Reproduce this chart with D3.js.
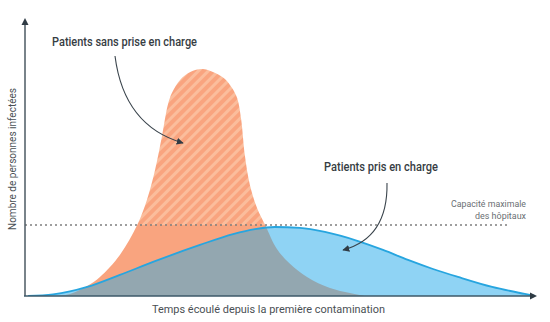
<!DOCTYPE html>
<html><head><meta charset="utf-8">
<script src="https://cdn.jsdelivr.net/npm/d3@7"></script>
<style>body{margin:0;background:#fff}svg{display:block;font-family:Roboto,"Noto Sans",sans-serif}</style>
</head><body><svg id="c" width="550" height="322"></svg>
<script>
// Time (0-100) and infected (0-100, peak of unmanaged curve = 100)
const sansPriseX = [5.9, 8.8, 12.2, 14.7, 18.6, 22.0, 23.9, 25.5, 26.9, 28.0, 28.8, 30.4, 32.4, 34.9, 37.3, 39.2, 40.6, 41.6, 42.4, 43.1, 44.1, 45.5, 47.1, 49.4, 52.0, 55.3, 59.8, 63.7, 66.7];
const sansPriseY = [0, 0.9, 4.4, 8.4, 18.1, 31.3, 42.3, 55.5, 70.9, 84.1, 89.4, 95.2, 98.7, 100, 98.2, 95.6, 91.6, 87.2, 77.5, 62.1, 48.9, 38.8, 31.3, 20.7, 14.1, 8.4, 3.5, 1.3, 0];
const prisX = [0.6, 5.5, 8.8, 12.2, 18.6, 25.1, 34.3, 40.8, 45.1, 49.0, 53.9, 58.8, 65.3, 70.2, 75.1, 80.0, 84.9, 91.6, 98.0, 100];
const prisY = [0, 0.7, 2.0, 4.0, 9.3, 15.0, 22.5, 27.3, 29.5, 30.4, 30.0, 28.2, 24.2, 20.3, 15.9, 11.9, 8.4, 4.0, 0.9, 0];
const capacite = 31.3;
const labels = {
  sans: "Patients sans prise en charge",
  pris: "Patients pris en charge",
  cap1: "Capacité maximale",
  cap2: "des hôpitaux",
  yAxis: "Nombre de personnes infectées",
  xAxis: "Temps écoulé depuis la première contamination"
};

const svg = d3.select("#c");
const x = d3.scaleLinear().domain([0, 100]).range([25, 535]);
const y = d3.scaleLinear().domain([0, 100]).range([296, 69]);

const sans = sansPriseX.map((v, i) => ({x: v, y: sansPriseY[i]}));
const pris = prisX.map((v, i) => ({x: v, y: prisY[i]}));

const areaO = d3.area().x(d => x(d.x)).y0(y(0)).y1(d => Math.min(y(0), y(d.y))).curve(d3.curveCatmullRom.alpha(0.5));
const areaB = d3.area().x(d => x(d.x)).y0(y(0)).y1(d => y(d.y)).curve(d3.curveMonotoneX);
const lineB = d3.line().x(d => x(d.x)).y(d => y(d.y)).curve(d3.curveMonotoneX);

const defs = svg.append("defs");
const pat = defs.append("pattern").attr("id", "hatch").attr("patternUnits", "userSpaceOnUse")
  .attr("width", 7).attr("height", 7).attr("patternTransform", "rotate(45)");
pat.append("rect").attr("width", 7).attr("height", 7).attr("fill", "#f9a47f");
pat.append("rect").attr("width", 3).attr("height", 7).attr("fill", "#fbbd9c");

defs.append("clipPath").attr("id", "clipOrange").append("path").attr("d", areaO(sans));
defs.append("clipPath").attr("id", "clipBelowCap").append("rect")
  .attr("x", 0).attr("y", y(capacite)).attr("width", 550).attr("height", 322);
defs.append("clipPath").attr("id", "clipAboveCap").append("rect")
  .attr("x", 0).attr("y", 0).attr("width", 550).attr("height", y(capacite));
defs.append("clipPath").attr("id", "clipPlot").append("rect")
  .attr("x", 25).attr("y", 0).attr("width", 512).attr("height", 296);

const g = svg.append("g").attr("clip-path", "url(#clipPlot)");
// orange: hatched above capacity, solid below
g.append("path").attr("d", areaO(sans)).attr("fill", "url(#hatch)").attr("clip-path", "url(#clipAboveCap)");
g.append("path").attr("d", areaO(sans)).attr("fill", "#f9a47f").attr("clip-path", "url(#clipBelowCap)");
// blue
g.append("path").attr("d", areaB(pris)).attr("fill", "#8fd3f4");
// overlap gray
g.append("path").attr("d", areaB(pris)).attr("fill", "#93a7b0").attr("clip-path", "url(#clipOrange)");
// blue outline
g.append("path").attr("d", lineB(pris)).attr("fill", "none").attr("stroke", "#27a5df").attr("stroke-width", 1.8);

// capacity dashed line
svg.append("line").attr("x1", 25).attr("x2", 510).attr("y1", y(capacite)).attr("y2", y(capacite))
  .attr("stroke", "#7f7f7f").attr("stroke-width", 1.4).attr("stroke-dasharray", "2,3");

// axes
const axisColor = "#4d5a63";
svg.append("line").attr("x1", 25).attr("x2", 25).attr("y1", 296).attr("y2", 24)
  .attr("stroke", axisColor).attr("stroke-width", 1.5);
svg.append("path").attr("d", "M25,18 L21.5,25 L28.5,25 Z").attr("fill", "#2f3b44");
svg.append("line").attr("x1", 24).attr("x2", 531).attr("y1", 296).attr("y2", 296)
  .attr("stroke", "#3d5868").attr("stroke-width", 1.6);
svg.append("path").attr("d", "M537,296 L530,292.5 L530,299.5 Z").attr("fill", "#2f3b44");

// annotations arrows
defs.append("marker").attr("id", "ah").attr("viewBox", "0 0 10 10").attr("refX", 9).attr("refY", 5)
  .attr("markerWidth", 7).attr("markerHeight", 7).attr("orient", "auto-start-reverse")
  .attr("markerUnits", "userSpaceOnUse")
  .append("path").attr("d", "M0,0 L10,5 L0,10 Z").attr("fill", "#2f3b44");
svg.append("path").attr("d", "M115,56 Q124,126 183,143").attr("fill", "none")
  .attr("stroke", "#3a444c").attr("stroke-width", 1.1).attr("marker-end", "url(#ah)");
svg.append("path").attr("d", "M387,183 Q388,238 343,250").attr("fill", "none")
  .attr("stroke", "#3a444c").attr("stroke-width", 1.1).attr("marker-end", "url(#ah)");

// texts
function txt(str, xx, yy, opts) {
  const t = svg.append("text").attr("x", xx).attr("y", yy).text(str)
    .attr("font-size", opts.size).attr("fill", opts.color)
    .attr("font-weight", opts.weight || 400)
    .attr("text-anchor", opts.anchor || "start");
  if (opts.len) t.attr("textLength", opts.len).attr("lengthAdjust", "spacingAndGlyphs");
  return t;
}
txt(labels.sans, 52, 46, {size: 13, color: "#363d43", weight: 500, len: 145});
txt(labels.pris, 324, 171, {size: 13, color: "#363d43", weight: 500, len: 114});
txt(labels.cap1, 526, 207, {size: 9, color: "#6a6f73", anchor: "end", len: 75});
txt(labels.cap2, 526, 219, {size: 9, color: "#6a6f73", anchor: "end", len: 51});
txt(labels.xAxis, 152, 313, {size: 11.5, color: "#4a4f54", len: 233});
svg.append("text").attr("transform", "translate(16,159) rotate(-90)").attr("text-anchor", "middle")
  .attr("font-size", 10.5).attr("fill", "#4a4f54").attr("textLength", 142).attr("lengthAdjust", "spacingAndGlyphs")
  .text(labels.yAxis);
</script></body></html>
